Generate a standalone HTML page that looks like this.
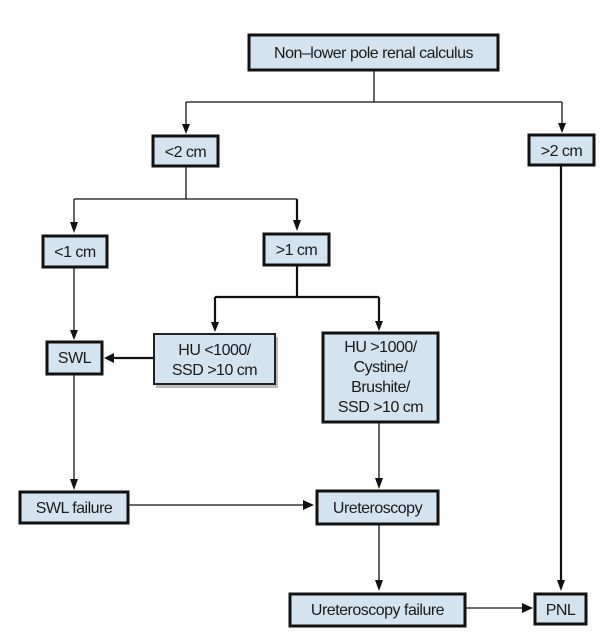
<!DOCTYPE html>
<html><head><style>
html,body{margin:0;padding:0;background:#fff;}
svg{display:block;}
text{font-family:"Liberation Sans",Arial,sans-serif;font-size:16px;fill:#1a1a1a;text-anchor:middle;letter-spacing:-0.5px;}
.b{fill:#d3e3f0;stroke:#111;stroke-width:3;}
.t{fill:#d3e3f0;stroke:#222;stroke-width:2;}
.l{stroke:#111;stroke-width:1.3;fill:none;}
.k{stroke:#111;stroke-width:2.2;fill:none;}
.a{fill:#111;}
</style></head><body>
<svg width="613" height="634" viewBox="0 0 613 634" xmlns="http://www.w3.org/2000/svg">
<path class="l" d="M374 70V102M186 102H562M186 102V128M562 102V127"/>
<polygon class="a" points="182,124 190,124 186,134"/>
<polygon class="a" points="558,123 566,123 562,133"/>
<path class="l" d="M186 167V199M74 199H297M74 199V226"/>
<path class="k" d="M297 199V224"/>
<polygon class="a" points="70,222 78,222 74,233"/>
<polygon class="a" points="293,220 301,220 297,231"/>
<path class="k" d="M297 266V297M215 297H379M215 297V325M379 297V324"/>
<polygon class="a" points="211,322 219,322 215,332"/>
<polygon class="a" points="375,321 383,321 379,331"/>
<path class="l" d="M74 267V332"/>
<polygon class="a" points="70,330 78,330 74,340"/>
<path class="k" d="M153 358H112"/>
<polygon class="a" points="114,353 114,363 104,358"/>
<path class="l" d="M74 374V481"/>
<polygon class="a" points="70,479 78,479 74,490"/>
<path class="l" d="M379 423V480"/>
<polygon class="a" points="375,478 379,478 383,478 379,489"/>
<path class="l" d="M128 505H305"/>
<polygon class="a" points="303,500 303,510 314,505"/>
<path class="l" d="M379 525V582"/>
<polygon class="a" points="375,580 383,580 379,591"/>
<path class="k" d="M561 166V582"/>
<polygon class="a" points="557,580 565,580 561,591"/>
<path class="l" d="M466 608H524"/>
<polygon class="a" points="522,603 522,613 533,608"/>
<rect class="b" x="249" y="35" width="249" height="35"/>
<text x="373.5" y="58">Non–lower pole renal calculus</text>
<rect class="b" x="153" y="136" width="65" height="30"/>
<text x="185.5" y="157">&lt;2 cm</text>
<rect class="b" x="529" y="135" width="65" height="30"/>
<text x="561.5" y="156">&gt;2 cm</text>
<rect class="b" x="43" y="236" width="64" height="31"/>
<text x="75" y="257">&lt;1 cm</text>
<rect class="b" x="264" y="234" width="65" height="31"/>
<text x="296.5" y="255">&gt;1 cm</text>
<rect class="b" x="47" y="342" width="55" height="32"/>
<text x="74.5" y="363">SWL</text>
<rect x="156" y="337" width="122" height="51" fill="#bbb"/>
<rect class="t" x="154" y="334" width="121" height="50"/>
<text x="214.5" y="355">HU &lt;1000/</text>
<text x="214.5" y="375">SSD &gt;10 cm</text>
<rect class="b" x="323" y="333" width="115" height="89"/>
<text x="380.5" y="352">HU &gt;1000/</text>
<text x="380.5" y="372">Cystine/</text>
<text x="380.5" y="392">Brushite/</text>
<text x="380.5" y="412">SSD &gt;10 cm</text>
<rect class="b" x="20" y="492" width="108" height="31"/>
<text x="74" y="513">SWL failure</text>
<rect class="b" x="317" y="491" width="121" height="33"/>
<text x="377.5" y="513">Ureteroscopy</text>
<rect class="b" x="290" y="594" width="175" height="32"/>
<text x="377.5" y="615">Ureteroscopy failure</text>
<rect class="b" x="535" y="594" width="51" height="30"/>
<text x="560.5" y="615">PNL</text>
</svg>
</body></html>
